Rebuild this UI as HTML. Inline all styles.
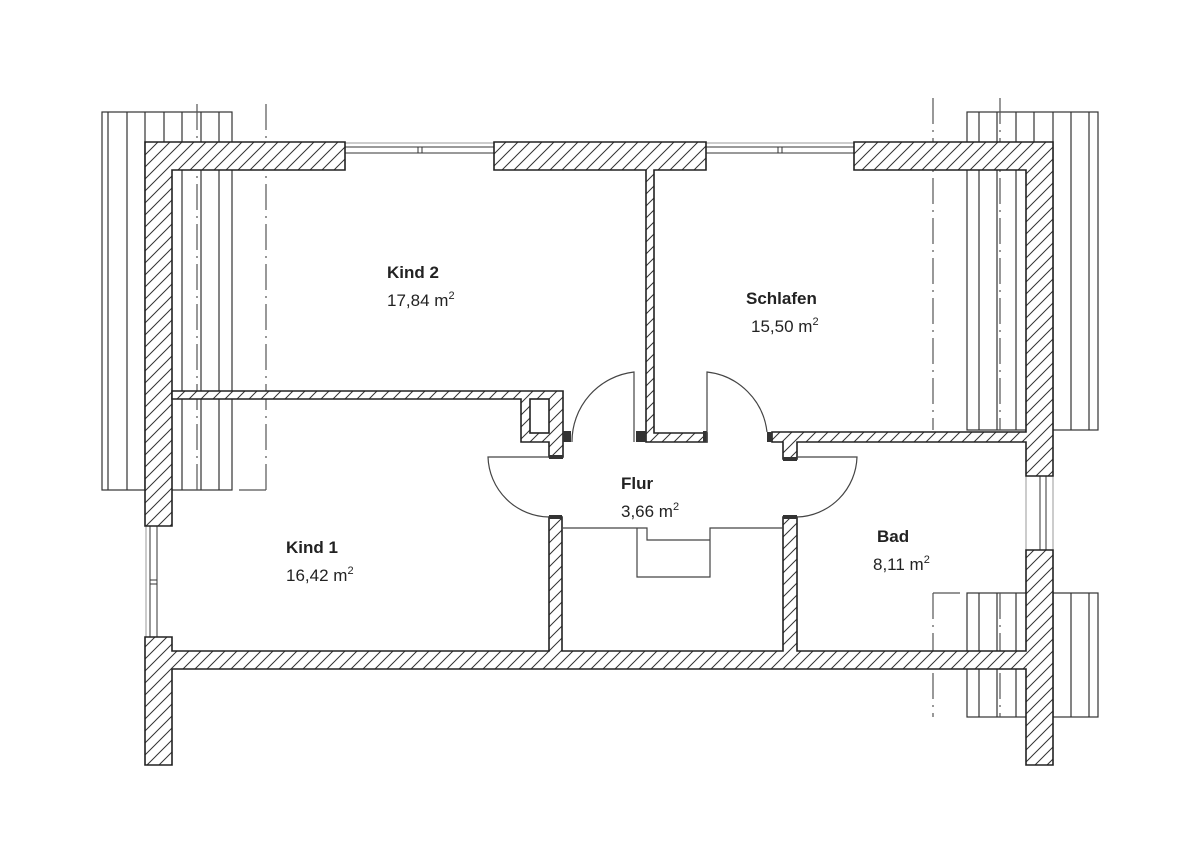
<!DOCTYPE html>
<html><head><meta charset="utf-8"><style>
html,body{margin:0;padding:0;background:#fff;}
svg{display:block;}
text{font-family:"Liberation Sans",Arial,sans-serif;fill:#222;}
</style></head><body>
<svg width="1200" height="848" viewBox="0 0 1200 848" xmlns="http://www.w3.org/2000/svg">
<defs>
<pattern id="h" patternUnits="userSpaceOnUse" width="12" height="12">
<rect width="12" height="12" fill="#fff"/>
<path d="M-2,14 L14,-2 M-2,2 L2,-2 M10,14 L14,10" stroke="#333" stroke-width="1"/>
</pattern>
</defs>

<g stroke="#333" stroke-width="1.2" fill="none">
<rect x="102" y="112" width="130" height="378"/>
<path d="M108,112V490 M127,112V490 M145,112V490 M164,112V490 M182,112V490 M201,112V490 M219,112V490"/>
<rect x="967" y="112" width="131" height="318"/>
<path d="M979,112V430 M997,112V430 M1016,112V430 M1034,112V430 M1053,112V430 M1071,112V430 M1089,112V430"/>
<rect x="967" y="593" width="131" height="124"/>
<path d="M979,593V717 M997,593V717 M1016,593V717 M1034,593V717 M1053,593V717 M1071,593V717 M1089,593V717"/>
</g>
<g stroke="#555" stroke-width="1.2" fill="none" stroke-dasharray="26,6,2,6">
<path d="M197,104V490 M266,104V490 M933,98V430 M1000,98V430 M933,593V717 M1000,593V717"/>
</g>
<g stroke="#555" stroke-width="1.2" fill="none">
<path d="M239,490H266 M933,593H960"/>
</g>

<g stroke="#333" stroke-width="1" fill="#fff">
<rect x="345" y="147" width="149" height="6"/>
<rect x="706" y="147" width="148" height="6"/>
<rect x="150" y="526" width="7" height="111"/>
<rect x="1040" y="476" width="6" height="74"/>
</g>
<g stroke="#999" stroke-width="1" fill="none">
<path d="M345,143H494 M706,143H854 M146,526V637 M1026,476V550 M1053,476V550"/>
<path d="M418,147V153 M422,147V153 M778,147V153 M782,147V153 M150,580H157 M150,584H157" stroke="#333"/>
</g>

<g fill="url(#h)" stroke="#222" stroke-width="1.6" stroke-linejoin="miter">
<polygon points="145,142 345,142 345,170 172,170 172,526 145,526"/>
<polygon points="494,142 706,142 706,170 654,170 654,433 707,433 707,442 646,442 646,170 494,170"/>
<polygon points="854,142 1053,142 1053,476 1026,476 1026,442 797,442 797,459 783,459 783,442 772,442 772,432 1026,432 1026,170 854,170"/>
<polygon points="1026,550 1053,550 1053,765 1026,765 1026,669 172,669 172,765 145,765 145,637 172,637 172,651 549,651 549,517 562,517 562,651 783,651 783,517 797,517 797,651 1026,651"/>
<polygon points="172,391 563,391 563,457 549,457 549,442 521,442 521,399 172,399"/>
</g>
<rect x="530" y="399" width="19" height="34" fill="#fff" stroke="#222" stroke-width="1.6"/>
<g fill="#333">
<rect x="563" y="431" width="8" height="11"/>
<rect x="636" y="431" width="10" height="11"/>
<rect x="703" y="431" width="4" height="11"/>
<rect x="767" y="432" width="5" height="10"/>
<rect x="549" y="455" width="14" height="4"/>
<rect x="783" y="457" width="14" height="4"/>
<rect x="549" y="515" width="13" height="4"/>
<rect x="783" y="515" width="14" height="4"/>
</g>

<g stroke="#444" stroke-width="1.2" fill="none">
<path d="M634,442 V372 A70,70 0 0 0 572,442"/>
<path d="M707,442 V372 A68,68 0 0 1 767,432"/>
<path d="M549,457 H488 A62,62 0 0 0 549,517"/>
<path d="M797,457 H857 A62,62 0 0 1 797,517"/>
<path d="M563,528 H637 V577 H710 V528 H783 M637,528 H647 V540 H710"/>
</g>

<g font-size="17">
<text x="387" y="278" font-weight="bold">Kind 2</text>
<text x="387" y="306">17,84 m<tspan font-size="11" dy="-7">2</tspan></text>
<text x="746" y="304" font-weight="bold">Schlafen</text>
<text x="751" y="332">15,50 m<tspan font-size="11" dy="-7">2</tspan></text>
<text x="621" y="489" font-weight="bold">Flur</text>
<text x="621" y="517">3,66 m<tspan font-size="11" dy="-7">2</tspan></text>
<text x="286" y="553" font-weight="bold">Kind 1</text>
<text x="286" y="581">16,42 m<tspan font-size="11" dy="-7">2</tspan></text>
<text x="877" y="542" font-weight="bold">Bad</text>
<text x="873" y="570">8,11 m<tspan font-size="11" dy="-7">2</tspan></text>
</g>
</svg>
</body></html>
